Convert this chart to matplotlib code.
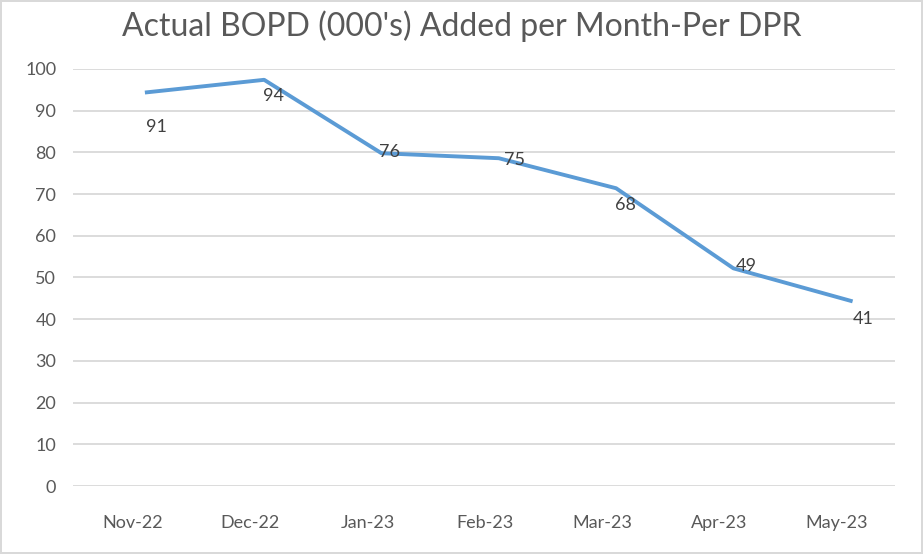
import matplotlib
matplotlib.use("Agg")
import matplotlib.pyplot as plt
import matplotlib.transforms as mtransforms

# data
months = ['Nov-22', 'Dec-22', 'Jan-23', 'Feb-23', 'Mar-23', 'Apr-23', 'May-23']
bopd = [94.4, 97.4, 79.8, 78.6, 71.4, 52.2, 44.4]
labels = ['91', '94', '76', '75', '68', '49', '41']

# label offsets in points (dx, dy) relative to each point
label_offsets = [(7, -25), (7, -12), (6, 1), (11, -1), (7, -12), (9, 2), (9, -13)]

plt.rcParams['font.family'] = ['Lato', 'DejaVu Sans']
grey = '#595959'

fig = plt.figure(figsize=(9.23, 5.54), dpi=100)
fig.patch.set_edgecolor('#d9d9d9')
fig.patch.set_linewidth(1.5)
ax = fig.add_axes([0.079, 0.1227, 0.891, 0.7528])

x = list(range(len(months)))
ax.plot(x, bopd, color='#5b9bd5', linewidth=2.8, solid_joinstyle='round', zorder=3)

for xi, yi, txt, (dx, dy) in zip(x, bopd, labels, label_offsets):
    ax.annotate(txt, (xi, yi), xytext=(dx, dy), textcoords='offset points',
                ha='center', va='center', fontsize=13, color='#404040', zorder=4)

ax.set_xlim(-0.63, 6.38)
ax.set_ylim(0, 100)
ax.set_yticks(range(0, 101, 10))
ax.set_xticks(x)
ax.set_xticklabels(months)

ax.grid(axis='y', color='#d9d9d9', linewidth=1.3)
ax.set_axisbelow(True)
for s in ax.spines.values():
    s.set_visible(False)
ax.tick_params(axis='both', length=0, colors=grey, labelsize=13)
ax.tick_params(axis='x', pad=21)
ax.tick_params(axis='y', pad=12)

# tick labels sit slightly left of the points in the reference
shift = mtransforms.ScaledTranslation(-14 / 100, 0, fig.dpi_scale_trans)
for lab in ax.get_xticklabels():
    lab.set_transform(lab.get_transform() + shift)

fig.text(0.5, 0.953, "Actual BOPD (000's) Added per Month-Per DPR",
         ha='center', va='center', fontsize=23, color=grey)

fig.savefig('out.png', dpi=100)
